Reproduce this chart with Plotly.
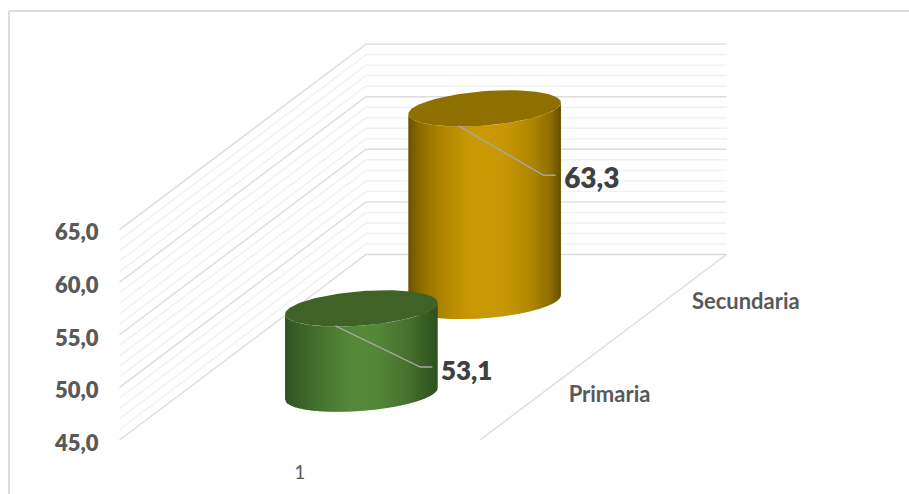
import numpy as np
import plotly.graph_objects as go

# ---- data ----
CATEGORIES = ["1"]
SERIES = ["Primaria", "Secundaria"]
VALUES = [53.1, 63.3]
VALUE_TICKS = [45, 50, 55, 60, 65]
MINOR_TICKS = list(range(45, 66))

# ---- geometry of the oblique 3D box ----
W, H = 909, 494
PX_PER_UNIT = 10.52
X_FRONT_LEFT = 119.5
X_FRONT_RIGHT = 480.0
Y_BASE_PX = 440.0
BASE = VALUE_TICKS[0]
TOP = VALUE_TICKS[-1]
DEPTH_DX = 246.5
DEPTH_DY = 185.5 / PX_PER_UNIT
RADIUS_X = 72.4
RADIUS_D = 0.098
FONT = "Lato"

Y_MAX = BASE + Y_BASE_PX / PX_PER_UNIT
Y_MIN = BASE - (H - Y_BASE_PX) / PX_PER_UNIT


def project(cat_pos, depth, value):
    """cat_pos in 0..1 across the front, depth in 0..1, value in axis units."""
    x = X_FRONT_LEFT + cat_pos * (X_FRONT_RIGHT - X_FRONT_LEFT) + depth * DEPTH_DX
    return x, value + depth * DEPTH_DY


fig = go.Figure()


def line(xs, ys, color, width):
    fig.add_trace(go.Scatter(x=xs, y=ys, mode="lines", hoverinfo="skip", showlegend=False,
                             line=dict(color=color, width=width)))


# walls
for v in MINOR_TICKS:
    major = v in VALUE_TICKS
    col, wid = ("#dcdcdc", 1.4) if major else ("#f1f1f1", 1.4)
    a = project(0, 0, v)
    b = project(0, 1, v)
    c = project(1, 1, v)
    line([a[0], b[0], c[0]], [a[1], b[1], c[1]], col, wid)
# floor edge
a = project(1, 1, BASE)
b = project(1, 0, BASE)
line([a[0], b[0]], [a[1], b[1]], "#dcdcdc", 1.4)

# ---- colours ----
GRADIENTS = [
    [(0, "#2f5120"), (.1, "#3b6227"), (.25, "#487530"), (.42, "#548839"), (.6, "#548839"),
     (.8, "#47722f"), (.94, "#335a22"), (1, "#2e4f1e")],
    [(0, "#6b5200"), (.07, "#8a6a00"), (.2, "#ab8300"), (.4, "#c89904"), (.62, "#c89904"),
     (.8, "#b08702"), (.93, "#8f6e00"), (1, "#664e00")],
]
TOP_COLORS = ["#3f6327", "#8f6f00"]
LEADER_DROP_PX = [58.7, 67.0]


def shade(stops, u):
    us = [s[0] for s in stops]
    rgb = np.array([[int(s[1][i:i + 2], 16) for i in (1, 3, 5)] for s in stops], float)
    c = [np.interp(u, us, rgb[:, k]) for k in range(3)]
    return "rgb(%d,%d,%d)" % tuple(int(round(x)) for x in c)


n_series = len(SERIES)
phi = np.arctan2(RADIUS_D * DEPTH_DX, RADIUS_X)
R = np.hypot(RADIUS_X, RADIUS_D * DEPTH_DX)


def front_arc(ws):
    return R * np.cos(ws), RADIUS_D * DEPTH_DY * np.sin(ws + phi)


N = 76
edges = np.linspace(-1, 1, N + 1)
for i in range(n_series - 1, -1, -1):
    value = VALUES[i]
    depth = (i + .5) / n_series
    cx, cy0 = project(.5, depth, BASE)
    cy1 = cy0 + (value - BASE)
    for k in range(N):
        u0, u1 = edges[k], min(edges[k + 1] + 0.012, 1)
        ws = -np.arccos(np.linspace(u0, u1, 5))
        dx, dy = front_arc(ws)
        xs = np.r_[cx + dx, (cx + dx)[::-1]]
        ys = np.r_[cy0 + dy, (cy1 + dy)[::-1]]
        fig.add_trace(go.Scatter(x=xs, y=ys, mode="lines", fill="toself", hoverinfo="skip",
                                 showlegend=False, line=dict(width=0),
                                 fillcolor=shade(GRADIENTS[i], (k + .5) / N)))
    t = np.linspace(0, 2 * np.pi, 121)
    fig.add_trace(go.Scatter(
        x=cx + RADIUS_X * np.cos(t) + RADIUS_D * DEPTH_DX * np.sin(t),
        y=cy1 + RADIUS_D * DEPTH_DY * np.sin(t),
        mode="lines", fill="toself", hoverinfo="skip", showlegend=False,
        line=dict(width=0), fillcolor=TOP_COLORS[i]))
    # leader line and data label
    px = 1 / PX_PER_UNIT
    drop = LEADER_DROP_PX[i] * px
    lx = [cx - 26, cx + 59, cx + 71]
    ly = [cy1 - 17.5 * px, cy1 - drop, cy1 - drop]
    line(lx, ly, "#a6a6a6", 1.5)
    fig.add_trace(go.Scatter(
        x=[lx[-1] + 8.5], y=[ly[-1] - 6 * px], mode="text", textposition="middle right",
        text=[f"{value:.1f}".replace(".", ",")], hoverinfo="skip", showlegend=False,
        textfont=dict(family=FONT, size=[26, 28][i], color="#404040", weight=800)))

# series (depth axis) labels
for i, name in enumerate(SERIES):
    x, y = project(1, (i + .5) / n_series, BASE)
    fig.add_trace(go.Scatter(x=[x + 27], y=[y - 2.5 / PX_PER_UNIT], mode="text", textposition="middle right",
                             text=[name], hoverinfo="skip", showlegend=False,
                             textfont=dict(family=FONT, size=22, color="#595959", weight="bold")))

# outer chart frame
fig.add_shape(type="line", xref="paper", yref="paper", x0=9 / W, x1=1, y0=1 - 11 / H, y1=1 - 11 / H,
              line=dict(color="#dcdcdc", width=2))
fig.add_shape(type="line", xref="paper", yref="paper", x0=9 / W, x1=9 / W, y0=0, y1=1 - 11 / H,
              line=dict(color="#dcdcdc", width=2))

fig.update_layout(
    width=W, height=H, margin=dict(l=0, r=0, t=0, b=0),
    paper_bgcolor="white", plot_bgcolor="white", showlegend=False, separators=",.",
    xaxis=dict(range=[0, W], showgrid=False, zeroline=False, showline=False, ticks="",
               tickmode="array",
               tickvals=[project(.5, 0, BASE)[0]], ticktext=CATEGORIES,
               anchor="free", position=(H - Y_BASE_PX) / H, ticklabelstandoff=19,
               tickfont=dict(family=FONT, size=19, color="#595959")),
    yaxis=dict(range=[Y_MIN, Y_MAX], showgrid=False, zeroline=False, showline=False, ticks="",
               tickmode="array", tickvals=VALUE_TICKS, tickformat=".1f",
               anchor="free", position=X_FRONT_LEFT / W, ticklabelstandoff=21, ticklabelshift=3,
               tickfont=dict(family=FONT, size=22, color="#595959", weight=800)),
)

fig.write_html("out.html", config=dict(displayModeBar=False),
               post_script="document.body.style.margin='0';document.body.style.overflow='hidden';")
